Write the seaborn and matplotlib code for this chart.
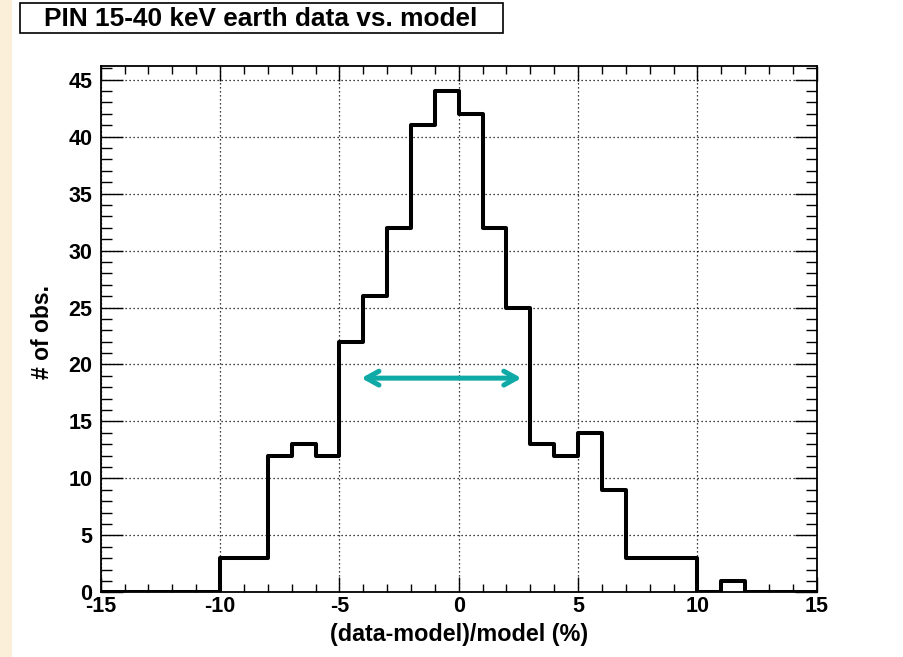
import numpy as np
import pandas as pd
import seaborn as sns
from matplotlib import pyplot as plt
from matplotlib.patches import Rectangle
from matplotlib.ticker import MultipleLocator

# bin edges -15..15, width 1
bin_left = list(range(-15, 15))
counts = [0, 0, 0, 0, 0,
          3, 3, 12, 13, 12,
          22, 26, 32, 41, 44,
          42, 32, 25, 13, 12,
          14, 9, 3, 3, 3,
          0, 1, 0, 0, 0]
arrow_x = [-4.08, 2.63]
arrow_y = 18.8

data = pd.DataFrame({"diff": [b + 0.5 for b in bin_left], "n": counts})

sns.set_style("white")
plt.rcParams['font.family'] = ['Liberation Sans', 'DejaVu Sans']
plt.rcParams['font.weight'] = 'bold'
plt.rcParams['axes.unicode_minus'] = False
plt.rcParams['text.color'] = 'black'
plt.rcParams['axes.labelcolor'] = 'black'
plt.rcParams['xtick.color'] = 'black'
plt.rcParams['ytick.color'] = 'black'

fig = plt.figure(figsize=(9.04, 6.57), dpi=100)
fig.patch.set_facecolor("white")
fig.patches.append(Rectangle((0, 0), 12 / 904, 1, transform=fig.transFigure,
                             facecolor="#fbefd9", edgecolor="none", zorder=0))

ax = fig.add_axes([100.7 / 904, 1 - 592.3 / 657, 716 / 904, 526.3 / 657])
sns.histplot(data=data, x="diff", weights="n", bins=30, binrange=(-15, 15),
             element="step", fill=False, color="black", linewidth=2.9, ax=ax)

ax.set_xlim(-15, 15)
ax.set_ylim(0, 46.2)
ax.xaxis.set_major_locator(MultipleLocator(5))
ax.xaxis.set_minor_locator(MultipleLocator(1))
ax.yaxis.set_major_locator(MultipleLocator(5))
ax.yaxis.set_minor_locator(MultipleLocator(1))
ax.grid(True, which="major", color="black", linestyle=(0, (1, 2.2)), linewidth=0.9)
ax.tick_params(axis="x", which="major", direction="in", length=11, width=1,
               top=True, bottom=True, labelsize=15.5, pad=3)
ax.tick_params(axis="x", which="minor", direction="in", length=6, width=1,
               top=True, bottom=True)
ax.tick_params(axis="y", which="major", direction="in", length=16, width=1,
               left=True, right=True, labelsize=15.5, pad=6)
ax.tick_params(axis="y", which="minor", direction="in", length=8, width=1,
               left=True, right=True)
for s in ax.spines.values():
    s.set_linewidth(1.3)
    s.set_color("black")

ax.set_xlabel("(data-model)/model (%)", fontsize=16.8, fontweight="bold")
ax.set_ylabel("# of obs.", fontsize=16.5, fontweight="bold")
ax.xaxis.set_label_coords(0.5, -(623 - 592.3) / 526.3)
ax.yaxis.set_label_coords(-(100.7 - 54) / 716, 0.495)

ax.annotate("", xy=(arrow_x[0], arrow_y), xytext=(arrow_x[1], arrow_y),
            arrowprops=dict(arrowstyle="<->,head_length=0.9,head_width=0.5",
                            color="#0fa9a6", linewidth=3.6,
                            shrinkA=0, shrinkB=0, capstyle="round"))

# title box
fig.patches.append(Rectangle((20 / 904, 1 - 33 / 657), 483 / 904, 30 / 657,
                             transform=fig.transFigure, facecolor="white",
                             edgecolor="black", linewidth=1.2))
fig.text(261 / 904, 1 - 19 / 657, "PIN 15-40 keV earth data vs. model",
         ha="center", va="center", fontsize=18.9, fontweight="bold")

fig.savefig("out.png", dpi=100)
